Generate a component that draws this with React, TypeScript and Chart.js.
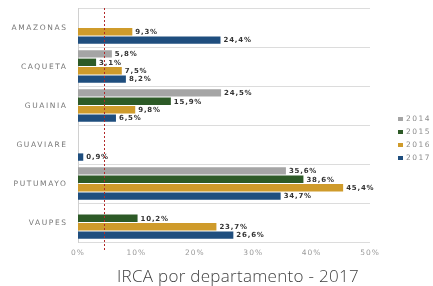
import { useEffect, useRef } from 'react';
import { Chart, registerables } from 'chart.js';

Chart.register(...registerables);

const categories = ['AMAZONAS', 'CAQUETA', 'GUAINIA', 'GUAVIARE', 'PUTUMAYO', 'VAUPES'];
const years = ['2014', '2015', '2016', '2017'];
const v2014 = [null, 5.8, 24.5, null, 35.6, null];
const v2015 = [null, 3.1, 15.9, null, 38.6, 10.2];
const v2016 = [9.3, 7.5, 9.8, null, 45.4, 23.7];
const v2017 = [24.4, 8.2, 6.5, 0.9, 34.7, 26.6];
const xMin = 0;
const xMax = 50;
const xStep = 10;
const referenceLine = 4.5;
const titleText = 'IRCA por departamento - 2017';

const colors = ['#a5a5a5', '#2d5a27', '#cf9b2b', '#1f4e7e'];

export default function App() {
  const ref = useRef<HTMLCanvasElement>(null);

  useEffect(() => {
    const canvas = ref.current!;
    const series = [v2014, v2015, v2016, v2017];

    const plugin = {
      id: 'custom',
      beforeDraw(chart: any) {
        chart.ctx.letterSpacing = '1px';
      },
      afterDatasetsDraw(chart: any) {
        const ctx = chart.ctx;
        const area = chart.chartArea;
        const xs = chart.scales.x;
        // data labels
        ctx.save();
        ctx.letterSpacing = '0.8px';
        ctx.font = 'bold 7px "DejaVu Sans"';
        ctx.fillStyle = '#333333';
        ctx.textAlign = 'left';
        ctx.textBaseline = 'middle';
        chart.data.datasets.forEach((ds: any, di: number) => {
          const meta = chart.getDatasetMeta(di);
          meta.data.forEach((bar: any, i: number) => {
            const v = ds.data[i];
            if (v === null || v === undefined) return;
            const txt = v.toFixed(1).replace('.', ',') + '%';
            ctx.fillText(txt, bar.x + 3, bar.y + 0.5);
          });
        });
        ctx.restore();
        // reference line
        const px = xs.getPixelForValue(referenceLine);
        ctx.save();
        ctx.strokeStyle = '#b22a2a';
        ctx.lineWidth = 1;
        ctx.setLineDash([2, 2]);
        ctx.beginPath();
        ctx.moveTo(Math.round(px) + 0.5, area.top);
        ctx.lineTo(Math.round(px) + 0.5, area.bottom + 8);
        ctx.stroke();
        ctx.restore();
      },
      afterDraw(chart: any) {
        const ctx = chart.ctx;
        const ys = chart.scales.y;
        // category labels
        ctx.save();
        ctx.letterSpacing = '1.6px';
        ctx.font = '7.5px "DejaVu Sans"';
        ctx.fillStyle = '#767676';
        ctx.textAlign = 'right';
        ctx.textBaseline = 'middle';
        categories.forEach((c, i) => {
          ctx.fillText(c, 66 + 1.6, ys.getPixelForValue(i) + 0.5);
        });
        ctx.restore();
        // legend
        ctx.save();
        ctx.letterSpacing = '1.5px';
        ctx.font = '7.5px "DejaVu Sans"';
        ctx.textAlign = 'left';
        ctx.textBaseline = 'middle';
        chart.data.datasets.forEach((ds: any, i: number) => {
          const y = 119 + i * 13;
          ctx.fillStyle = ds.backgroundColor;
          ctx.fillRect(398, y - 2, 5, 4);
          ctx.fillStyle = '#8c8c8c';
          ctx.fillText(ds.label, 406, y + 0.5);
        });
        ctx.restore();
        // title
        ctx.save();
        ctx.letterSpacing = '0.3px';
        ctx.font = '300 17px "Open Sans"';
        ctx.fillStyle = '#404040';
        ctx.textAlign = 'center';
        ctx.textBaseline = 'alphabetic';
        ctx.fillText(titleText, 238, 282);
        ctx.restore();
      },
    };

    const chart = new Chart(canvas, {
      type: 'bar',
      data: {
        labels: categories,
        datasets: years.map((y, i) => ({
          label: y,
          data: series[i],
          backgroundColor: colors[i],
          borderWidth: 0,
          categoryPercentage: 0.86,
          barPercentage: 0.88,
        })),
      },
      options: {
        indexAxis: 'y',
        responsive: false,
        animation: false,
        layout: { padding: { left: 0, right: 63, top: 8, bottom: 0 } },
        plugins: {
          legend: { display: false },
          tooltip: { enabled: false },
          title: { display: false },
        },
        scales: {
          y: {
            afterFit: (s: any) => {
              s.width = 78;
            },
            ticks: { display: false },
            grid: { offset: true, color: '#dcdcdc', drawTicks: false, lineWidth: 1 },
            border: { display: true, color: '#d0d0d0' },
          },
          x: {
            min: xMin,
            max: xMax,
            afterFit: (s: any) => {
              s.height = 44;
            },
            ticks: {
              stepSize: xStep,
              padding: 7,
              color: '#9a9a9a',
              font: { family: 'DejaVu Sans', size: 7.5 },
              callback: (v: any) => v + '%',
              maxRotation: 0,
            },
            grid: { display: false, drawTicks: false },
            border: { display: false },
          },
        },
      },
      plugins: [plugin],
    });
    return () => chart.destroy();
  }, []);

  return (
    <div style={{ position: 'absolute', left: 0, top: 0, width: 433, height: 286, background: '#ffffff' }}>
      <canvas ref={ref} width={433} height={286} style={{ display: 'block' }} />
    </div>
  );
}
